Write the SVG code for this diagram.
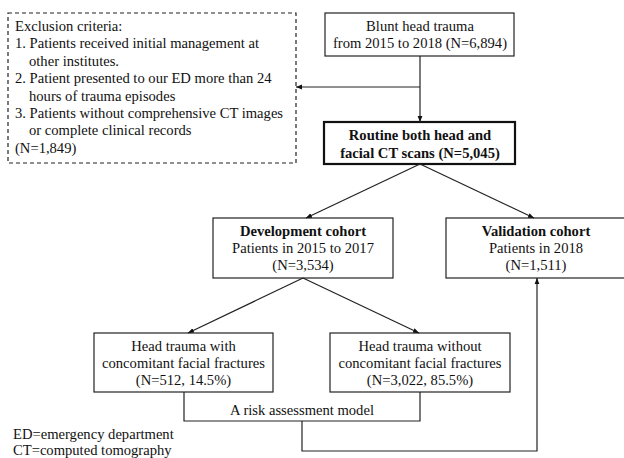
<svg xmlns="http://www.w3.org/2000/svg" width="624" height="458" viewBox="0 0 624 458">
<style>
text{font-family:"Liberation Serif","Times New Roman",serif;font-size:14.6px;fill:#111}
.c{text-anchor:middle}
.b{font-weight:bold}
.box{fill:#fff;stroke:#222;stroke-width:1.2}
.thick{fill:#fff;stroke:#111;stroke-width:2.2}
.dash{fill:#fff;stroke:#222;stroke-width:1.2;stroke-dasharray:4 3}
.ln{fill:none;stroke:#222;stroke-width:1.2}
</style>
<defs>
<marker id="ah" viewBox="0 0 10 10" refX="10" refY="5" markerWidth="6" markerHeight="6" markerUnits="userSpaceOnUse" orient="auto">
<path d="M0,1 L10,5 L0,9 z" fill="#111"/>
</marker>
</defs>
<g id="exclusion">
<rect class="dash" x="8" y="13" width="288" height="150"/>
<text x="15" y="31">Exclusion criteria:</text>
<text x="15" y="48.4">1. Patients received initial management at</text>
<text x="29" y="65.8">other institutes.</text>
<text x="15" y="83.2">2. Patient presented to our ED more than 24</text>
<text x="29" y="100.6">hours of trauma episodes</text>
<text x="15" y="118">3. Patients without comprehensive CT images</text>
<text x="29" y="135.4">or complete clinical records</text>
<text x="15" y="152.8">(N=1,849)</text>
</g>
<g id="blunt">
<rect class="box" x="325" y="13" width="189" height="43"/>
<text class="c" x="420" y="31">Blunt head trauma</text>
<text class="c" x="420" y="48">from 2015 to 2018 (N=6,894)</text>
</g>
<g id="routine">
<rect class="thick" x="324" y="122" width="191" height="42"/>
<text class="c b" x="420" y="140">Routine both head and</text>
<text class="c b" x="420" y="158">facial CT scans (N=5,045)</text>
</g>
<g id="development">
<rect class="box" x="213" y="218" width="180" height="60"/>
<text class="c b" x="303" y="236">Development cohort</text>
<text class="c" x="303" y="253">Patients in 2015 to 2017</text>
<text class="c" x="303" y="270">(N=3,534)</text>
</g>
<g id="validation">
<rect class="box" x="446" y="218" width="182" height="60"/>
<text class="c b" x="536" y="236">Validation cohort</text>
<text class="c" x="536" y="253">Patients in 2018</text>
<text class="c" x="536" y="270">(N=1,511)</text>
</g>
<g id="with">
<rect class="box" x="94" y="333" width="179" height="59"/>
<text class="c" x="183.5" y="351">Head trauma with</text>
<text class="c" x="183.5" y="368">concomitant facial fractures</text>
<text class="c" x="183.5" y="385">(N=512, 14.5%)</text>
</g>
<g id="without">
<rect class="box" x="330" y="333" width="180" height="59"/>
<text class="c" x="420" y="351">Head trauma without</text>
<text class="c" x="420" y="368">concomitant facial fractures</text>
<text class="c" x="420" y="385">(N=3,022, 85.5%)</text>
</g>
<g id="risk">
<text class="c" x="302" y="415">A risk assessment model</text>
</g>
<g id="legend">
<text x="13" y="439">ED=emergency department</text>
<text x="13" y="455">CT=computed tomography</text>
</g>
<g id="connectors">
<path class="ln" d="M420,56 V122" marker-end="url(#ah)"/>
<path class="ln" d="M420,87 H296" marker-end="url(#ah)"/>
<path class="ln" d="M420,164 L306,218" marker-end="url(#ah)"/>
<path class="ln" d="M420,164 L534,218" marker-end="url(#ah)"/>
<path class="ln" d="M303,278 L188,333" marker-end="url(#ah)"/>
<path class="ln" d="M303,278 L419,333" marker-end="url(#ah)"/>
<path class="ln" d="M184,392 V421 H420 V392"/>
<path class="ln" d="M302,421 V451 H537 V278" marker-end="url(#ah)"/>
</g>
</svg>
